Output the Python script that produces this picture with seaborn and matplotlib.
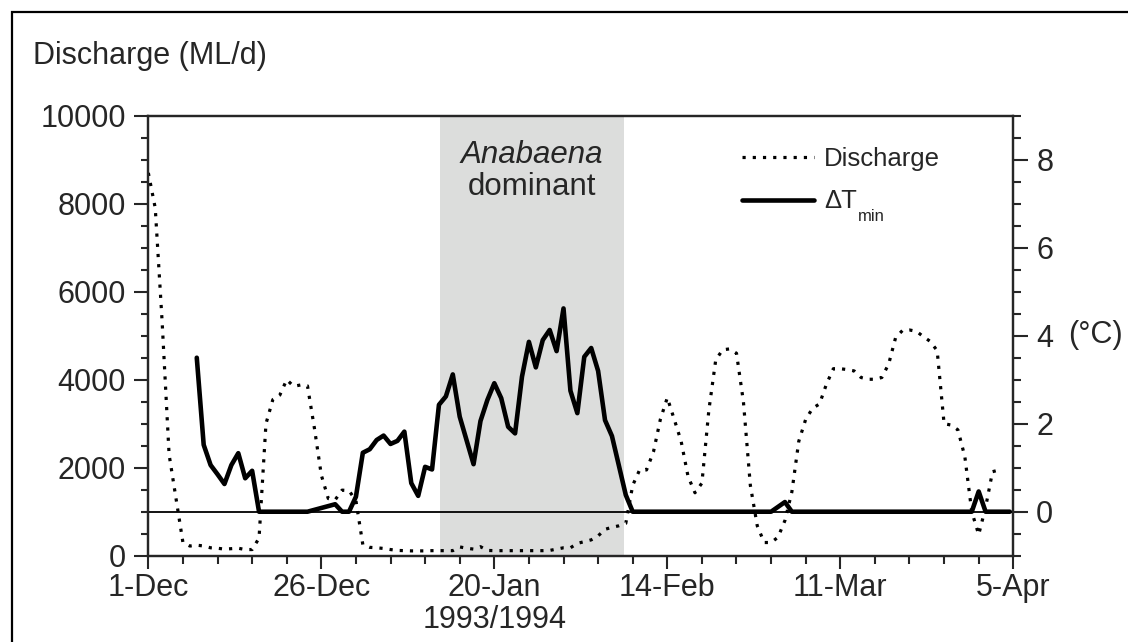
import numpy as np
import pandas as pd
import matplotlib
matplotlib.use("Agg")
import matplotlib.pyplot as plt
import seaborn as sns
from matplotlib.ticker import MultipleLocator, FixedLocator
from matplotlib.lines import Line2D
from matplotlib.patches import Rectangle

# ---------------- data (days since 1 Dec 1993) ----------------
discharge_day = list(range(0, 124))
discharge = [8700, 7900, 5300, 2300, 1300, 300, 220, 240, 220, 180,
             170, 150, 160, 170, 140, 140, 400, 3000, 3550, 3650,
             4000, 3850, 3880, 3860, 2900, 1830, 1300, 1270, 1490, 1480,
             1250, 250, 190, 180, 165, 140, 120, 115, 110, 110,
             110, 115, 115, 115, 115, 200, 170, 150, 205, 120,
             115, 115, 115, 115, 115, 115, 115, 115, 120, 150,
             180, 180, 280, 320, 360, 450, 600, 645, 680, 735,
             1600, 1950, 1950, 2360, 3100, 3590, 3100, 2600, 1800, 1430,
             1650, 3300, 4450, 4680, 4700, 4600, 3500, 1600, 680, 300,
             300, 420, 800, 1450, 2600, 3100, 3350, 3450, 3900, 4250,
             4250, 4230, 4200, 4050, 4010, 4010, 4050, 4360, 4960, 5120,
             5130, 5100, 4980, 4870, 4660, 3000, 2970, 2860, 2250, 1000,
             480, 1100, 1910, 1950]

dtmin_day = [7, 8, 9, 10, 11, 12, 13, 14, 15, 16, 23, 27, 28, 29, 30,
             31, 32, 33, 34, 35, 36, 37, 38, 39, 40, 41, 42, 43, 44, 45,
             47, 48, 49, 50, 51, 52, 53, 54, 55, 56, 57, 58, 59, 60, 61,
             62, 63, 64, 65, 66, 67, 69, 70, 90, 92, 93, 119, 120, 121, 124.5]
dtmin = [3.5, 1.52, 1.06, 0.85, 0.63, 1.06, 1.33, 0.76, 0.93, 0.0, 0.0, 0.17, 0.0, 0.0, 0.34,
         1.34, 1.42, 1.63, 1.73, 1.54, 1.61, 1.82, 0.65, 0.36, 1.02, 0.96, 2.43, 2.62, 3.12, 2.16,
         1.08, 2.06, 2.54, 2.92, 2.58, 1.93, 1.78, 3.07, 3.86, 3.28, 3.9, 4.13, 3.65, 4.62, 2.75,
         2.24, 3.52, 3.72, 3.2, 2.08, 1.72, 0.38, 0.0, 0.0, 0.22, 0.0, 0.0, 0.46, 0.0, 0.0]

xtick_days = [0, 25, 50, 75, 100, 125]
xtick_labels = ["1-Dec", "26-Dec", "20-Jan", "14-Feb", "11-Mar", "5-Apr"]
bloom_start, bloom_end = 42.1, 68.8   # Anabaena dominant period

# ---------------- style ----------------
sns.set_style("ticks")
plt.rcParams["font.family"] = ["Liberation Sans", "DejaVu Sans"]
FS = 22
LFS = 18.5
W, H = 1128, 642

fig = plt.figure(figsize=(W / 100, H / 100), dpi=100)
ax1 = fig.add_axes([0.1315, 0.1344, 0.7668, 0.6854])

ax1.axvspan(bloom_start, bloom_end, color="#dcdddc", lw=0, zorder=0)
dot_style = (0, (1, 2.2))
sns.lineplot(x=discharge_day, y=discharge, ax=ax1, color="black",
             lw=2.3, linestyle=dot_style, zorder=3)

ax2 = ax1.twinx()
ax2.axhline(0, color="black", lw=1.3, zorder=2)
sns.lineplot(x=dtmin_day, y=dtmin, ax=ax2, color="black", lw=3.3, zorder=4)

# axes limits / ticks
ax1.set_xlim(0, 125)
ax1.set_ylim(0, 10000)
ax2.set_ylim(-1, 9)
ax1.xaxis.set_major_locator(FixedLocator(xtick_days))
ax1.set_xticklabels(xtick_labels)
ax1.xaxis.set_minor_locator(MultipleLocator(5))
ax1.yaxis.set_major_locator(MultipleLocator(2000))
ax1.yaxis.set_minor_locator(MultipleLocator(500))
ax2.yaxis.set_major_locator(MultipleLocator(2))
ax2.yaxis.set_minor_locator(MultipleLocator(0.5))

for ax in (ax1, ax2):
    ax.set_xlabel("")
    ax.set_ylabel("")
    for sp in ax.spines.values():
        sp.set_linewidth(1.6)
        sp.set_visible(True)
ax1.tick_params(axis="y", which="major", direction="out", length=10, width=1.5,
                labelsize=FS, pad=6, right=False)
ax1.tick_params(axis="y", which="minor", direction="out", length=5, width=1.5, right=False)
ax1.tick_params(axis="x", which="major", direction="out", length=9, width=1.5,
                labelsize=FS, pad=3.2, top=False)
ax1.tick_params(axis="x", which="minor", direction="out", length=5.5, width=1.5, top=False)
ax2.tick_params(axis="y", which="major", direction="out", length=10.5, width=1.5,
                labelsize=FS, pad=6)
ax2.tick_params(axis="y", which="minor", direction="out", length=6, width=1.5)

# texts (baseline positioned)
def fy(px):
    return 1 - px / H

fig.text(33 / W, fy(64), "Discharge (ML/d)", ha="left", va="baseline", fontsize=FS)
fig.text(1068 / W, fy(343), "(°C)", ha="left", va="baseline", fontsize=FS)
trans = ax1.get_xaxis_transform()
ax1.text(50, (555.7 - 628) / 440, "1993/1994", transform=trans, ha="center",
         va="baseline", fontsize=FS)
mid = (bloom_start + bloom_end) / 2
ax1.text(mid, (555.7 - 163) / 440, "Anabaena", transform=trans, ha="center",
         va="baseline", fontsize=FS + 0.5, style="italic")
ax1.text(mid, (555.7 - 195) / 440, "dominant", transform=trans, ha="center",
         va="baseline", fontsize=FS + 0.5)

# legend
handles = [Line2D([], [], color="black", lw=2.3, linestyle=dot_style),
           Line2D([], [], color="black", lw=3.3)]
labels = ["Discharge", "\u0394T"]
leg = ax2.legend(handles, labels, loc="upper left",
                 bbox_to_anchor=(741.7 / W, fy(147)),
                 bbox_transform=fig.transFigure, frameon=False, fontsize=LFS,
                 handlelength=2.8, handletextpad=0.4, labelspacing=0.72,
                 borderpad=0, borderaxespad=0)

# subscript "min" of the second legend label
fig.canvas.draw()
renderer = fig.canvas.get_renderer()
bb = leg.get_texts()[1].get_window_extent(renderer)
lfs_px = LFS * 100 / 72
baseline = bb.y0 + 0.212 * lfs_px
fig.text((bb.x1 + 1) / W, (baseline - 13) / H, "min", ha="left", va="baseline",
         fontsize=12)

# outer frame (cut by the image edge on right/bottom)
fig.patches.append(Rectangle((12 / W, -0.5), 2.0, 0.5 + 1 - 12 / H,
                             transform=fig.transFigure, fill=False,
                             lw=1.6, edgecolor="black", clip_on=False))

fig.savefig("out.png", dpi=100)
